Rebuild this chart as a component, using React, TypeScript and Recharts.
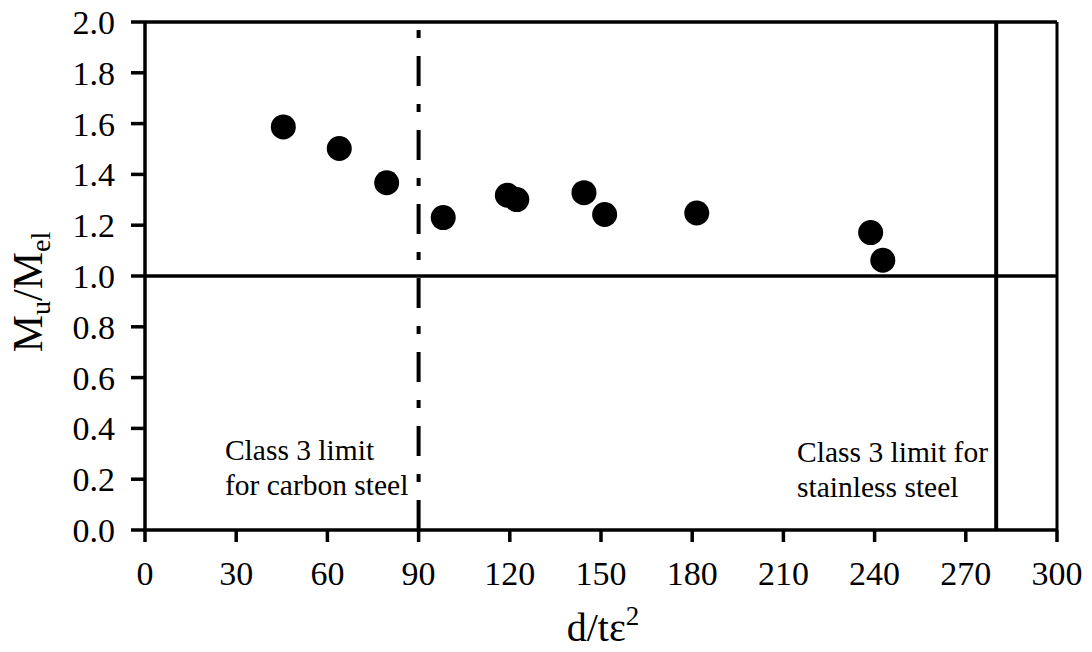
import React from 'react'
import { ScatterChart, Scatter, XAxis, YAxis, ReferenceLine, ReferenceDot } from 'recharts'

const slenderness = [45.5, 63.9, 79.5, 98.1, 119.2, 122.3, 144.4, 151.2, 181.5, 238.7, 242.7]
const momentRatio = [1.587, 1.502, 1.367, 1.23, 1.318, 1.301, 1.328, 1.242, 1.248, 1.171, 1.062]

const xTicks = [0, 30, 60, 90, 120, 150, 180, 210, 240, 270, 300]
const yTicks = [0, 0.2, 0.4, 0.6, 0.8, 1.0, 1.2, 1.4, 1.6, 1.8, 2.0]

const carbonLimit = 90
const stainlessLimit = 280
const carbonNote = ['Class 3 limit', 'for carbon steel']
const stainlessNote = ['Class 3 limit for', 'stainless steel']

const points = slenderness.map((x, i) => ({ x, y: momentRatio[i] }))

const FONT = 'Liberation Serif, Times New Roman, serif'
const axisStroke = { stroke: '#000', strokeWidth: 3.5 }

function Note({ cx, cy, lines }: { cx?: number; cy?: number; lines: string[] }) {
  if (cx == null || cy == null) return null
  return (
    <text x={cx} y={cy} style={{ fontFamily: FONT }} fontSize={29.5} fill="#000">
      {lines.map((l, i) => (
        <tspan key={i} x={cx} dy={i === 0 ? 0 : 35}>{l}</tspan>
      ))}
    </text>
  )
}

function XTick({ x, y, payload }: any) {
  return (
    <text x={x} y={y + 24} textAnchor="middle" style={{ fontFamily: FONT }} fontSize={34} fill="#000">
      {payload.value}
    </text>
  )
}

function YTick({ x, y, payload }: any) {
  return (
    <text x={x} y={y + 12} textAnchor="end" style={{ fontFamily: FONT }} fontSize={34} fill="#000">
      {Number(payload.value).toFixed(1)}
    </text>
  )
}

export default function App() {
  return (
    <div style={{ position: 'absolute', left: 0, top: 0, background: '#fff', fontFamily: FONT }}>
      <ScatterChart width={1092} height={652} margin={{ top: 22, right: 35, bottom: 42, left: 0 }}>
        <XAxis
          type="number"
          dataKey="x"
          domain={[0, 300]}
          ticks={xTicks}
          interval={0}
          tickSize={12}
          tickMargin={19}
          height={80}
          axisLine={axisStroke}
          tickLine={axisStroke}
          tick={<XTick />}
          label={{
            content: () => (
              <text x={603} y={641} textAnchor="middle" style={{ fontFamily: FONT }} fontSize={40} fill="#000">
                d/tε<tspan dy={-16} fontSize={27}>2</tspan>
              </text>
            ),
          }}
        />
        <YAxis
          type="number"
          dataKey="y"
          domain={[0, 2]}
          ticks={yTicks}
          interval={0}
          width={145}
          tickSize={14}
          tickMargin={16}
          axisLine={axisStroke}
          tickLine={axisStroke}
          tick={<YTick />}
          label={{
            content: () => (
              <text
                x={42}
                y={292}
                transform="rotate(-90, 42, 292)"
                textAnchor="middle"
                style={{ fontFamily: FONT }}
                fontSize={42}
                fill="#000"
              >
                M<tspan dy={8} fontSize={28}>u</tspan>
                <tspan dy={-8}>/M</tspan>
                <tspan dy={8} fontSize={28}>el</tspan>
              </text>
            ),
          }}
        />
        <ReferenceLine y={2} stroke="#000" strokeWidth={3.5} />
        <ReferenceLine x={300} stroke="#000" strokeWidth={3} />
        <ReferenceLine y={1} stroke="#000" strokeWidth={3.5} />
        <ReferenceLine x={stainlessLimit} stroke="#000" strokeWidth={4} />
        <ReferenceLine x={carbonLimit} stroke="#000" strokeWidth={4} strokeDasharray="30 18 8 18" />
        <ReferenceDot x={26.3} y={0.274} r={0} shape={(p: any) => <Note {...p} lines={carbonNote} />} />
        <ReferenceDot x={214.5} y={0.267} r={0} shape={(p: any) => <Note {...p} lines={stainlessNote} />} />
        <Scatter
          data={points}
          isAnimationActive={false}
          shape={(p: any) => <circle cx={p.cx} cy={p.cy} r={12.5} fill="#000" />}
        />
      </ScatterChart>
    </div>
  )
}
